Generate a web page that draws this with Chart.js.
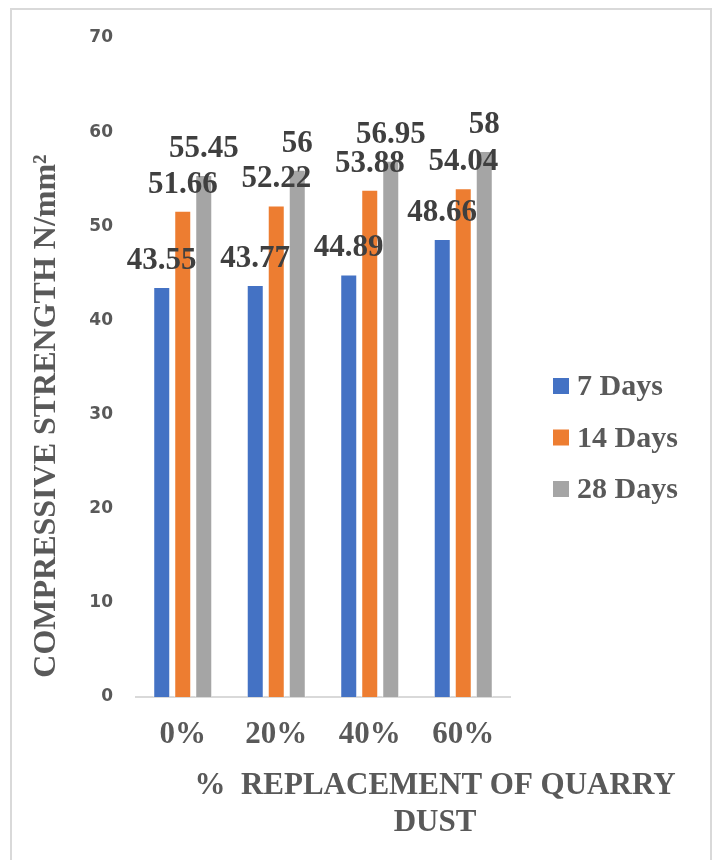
<!DOCTYPE html>
<html>
<head>
<meta charset="utf-8">
<title>Compressive strength vs quarry dust replacement</title>
<script src="https://cdn.jsdelivr.net/npm/chart.js@4.4.1/dist/chart.umd.min.js"></script>
<style>
  html, body { margin: 0; padding: 0; background: #ffffff; overflow: hidden; }
  #wrap { position: relative; width: 715px; height: 860px; }
  #frame {
    position: absolute; left: 10px; top: 8px; width: 702px; height: 900px;
    box-sizing: border-box; border: 2px solid #d9d9d9; pointer-events: none;
  }
  #chart { position: absolute; left: 0; top: 0; }
</style>
</head>
<body>
<div id="wrap">
  <div id="frame"></div>
  <canvas id="chart" width="715" height="860"></canvas>
</div>
<script>
// Replacement levels of quarry dust
const categories = ['0%', '20%', '40%', '60%'];

// Compressive strength (N/mm²) at each curing age
const days7  = [43.55, 43.77, 44.89, 48.66];
const days14 = [51.66, 52.22, 53.88, 54.04];
const days28 = [55.45, 56, 56.95, 58];

const seriesNames = ['7 Days', '14 Days', '28 Days'];

// Value axis range
const yMin = 0;
const yMax = 70;
const yStep = 10;

const yTitle = 'COMPRESSIVE STRENGTH N/mm\u00B2';
const xTitleLines = ['%  REPLACEMENT OF QUARRY', 'DUST'];

const SERIF = '"Liberation Serif", "Times New Roman", serif';
const TEXT_GREY = '#595959';

// Value printed above every bar
const valueLabels = {
  id: 'valueLabels',
  afterDatasetsDraw(chart) {
    const ctx = chart.ctx;
    ctx.save();
    ctx.font = 'bold 31px ' + SERIF;
    ctx.fillStyle = '#3f3f3f';
    ctx.textAlign = 'center';
    ctx.textBaseline = 'alphabetic';
    chart.data.datasets.forEach((ds, i) => {
      const meta = chart.getDatasetMeta(i);
      meta.data.forEach((bar, j) => {
        ctx.fillText(String(ds.data[j]), bar.x, bar.y - 18);
      });
    });
    ctx.restore();
  }
};

// Axis titles and the series key on the right
const decorations = {
  id: 'decorations',
  afterDraw(chart) {
    const ctx = chart.ctx;
    ctx.save();
    ctx.fillStyle = TEXT_GREY;

    // vertical axis title
    ctx.font = 'bold 32px ' + SERIF;
    ctx.textAlign = 'center';
    ctx.textBaseline = 'alphabetic';
    ctx.save();
    ctx.translate(55, 416);
    ctx.rotate(-Math.PI / 2);
    ctx.fillText(yTitle, 0, 0);
    ctx.restore();

    // horizontal axis title, two lines
    ctx.font = 'bold 31px ' + SERIF;
    ctx.fillText(xTitleLines[0], 435, 794);
    ctx.fillText(xTitleLines[1], 435, 831);

    // series key
    ctx.font = 'bold 30px ' + SERIF;
    ctx.textAlign = 'left';
    chart.data.datasets.forEach((ds, i) => {
      const top = 378 + i * 51.5;
      ctx.fillStyle = ds.backgroundColor;
      ctx.fillRect(553, top, 16, 16);
      ctx.fillStyle = TEXT_GREY;
      ctx.fillText(ds.label, 577, top + 17);
    });
    ctx.restore();
  }
};

const barStyle = {
  borderColor: 'rgba(255,255,255,0.6)',
  borderWidth: 1,
  categoryPercentage: 0.674,
  barPercentage: 0.81
};

new Chart(document.getElementById('chart'), {
  type: 'bar',
  data: {
    labels: categories,
    datasets: [
      Object.assign({ label: seriesNames[0], data: days7,  backgroundColor: '#4472C4' }, barStyle),
      Object.assign({ label: seriesNames[1], data: days14, backgroundColor: '#ED7D31' }, barStyle),
      Object.assign({ label: seriesNames[2], data: days28, backgroundColor: '#A5A5A5' }, barStyle)
    ]
  },
  options: {
    responsive: false,
    animation: false,
    devicePixelRatio: 1,
    layout: { padding: { left: 0, top: 38, right: 205, bottom: 0 } },
    plugins: {
      legend: { display: false },
      tooltip: { enabled: false }
    },
    scales: {
      x: {
        grid: { display: false, drawTicks: false },
        border: { display: true, color: '#d9d9d9', width: 2 },
        ticks: {
          color: TEXT_GREY,
          padding: 19,
          font: { family: SERIF, size: 31, weight: 'bold' }
        },
        afterFit(scale) { scale.height = 163; }
      },
      y: {
        min: yMin,
        max: yMax,
        grid: { display: false, drawTicks: false },
        border: { display: false },
        ticks: {
          stepSize: yStep,
          color: TEXT_GREY,
          padding: 23,
          font: { family: '"DejaVu Sans", sans-serif', size: 17, weight: 'bold' }
        },
        afterFit(scale) { scale.width = 136; }
      }
    }
  },
  plugins: [valueLabels, decorations]
});
</script>
</body>
</html>
